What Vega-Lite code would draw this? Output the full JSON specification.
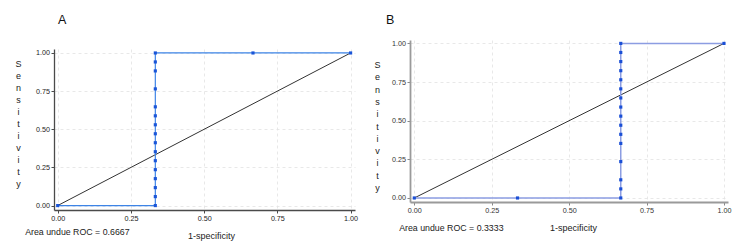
{
  "$schema": "https://vega.github.io/schema/vega-lite/v6.json",
  "background": "white",
  "padding": {"left": 14, "top": 13, "right": 5, "bottom": 5},
  "spacing": 15,
  "datasets": {
    "diag": [
      {"fpr": 0, "tpr": 0},
      {"fpr": 1, "tpr": 1}
    ],
    "rocA": [
      {"step": 1, "fpr": 0, "tpr": 0},
      {"step": 2, "fpr": 0.3333, "tpr": 0},
      {"step": 3, "fpr": 0.3333, "tpr": 0.0588},
      {"step": 4, "fpr": 0.3333, "tpr": 0.1176},
      {"step": 5, "fpr": 0.3333, "tpr": 0.1765},
      {"step": 6, "fpr": 0.3333, "tpr": 0.2353},
      {"step": 7, "fpr": 0.3333, "tpr": 0.2941},
      {"step": 8, "fpr": 0.3333, "tpr": 0.3529},
      {"step": 9, "fpr": 0.3333, "tpr": 0.4118},
      {"step": 10, "fpr": 0.3333, "tpr": 0.4706},
      {"step": 11, "fpr": 0.3333, "tpr": 0.5294},
      {"step": 12, "fpr": 0.3333, "tpr": 0.5882},
      {"step": 13, "fpr": 0.3333, "tpr": 0.6471},
      {"step": 14, "fpr": 0.3333, "tpr": 0.7647},
      {"step": 15, "fpr": 0.3333, "tpr": 0.8824},
      {"step": 16, "fpr": 0.3333, "tpr": 0.9412},
      {"step": 17, "fpr": 0.3333, "tpr": 1},
      {"step": 18, "fpr": 0.6667, "tpr": 1},
      {"step": 19, "fpr": 1, "tpr": 1}
    ],
    "rocB": [
      {"step": 1, "fpr": 0, "tpr": 0},
      {"step": 2, "fpr": 0.3333, "tpr": 0},
      {"step": 3, "fpr": 0.6667, "tpr": 0},
      {"step": 4, "fpr": 0.6667, "tpr": 0.0588},
      {"step": 5, "fpr": 0.6667, "tpr": 0.1176},
      {"step": 6, "fpr": 0.6667, "tpr": 0.2353},
      {"step": 7, "fpr": 0.6667, "tpr": 0.3529},
      {"step": 8, "fpr": 0.6667, "tpr": 0.4118},
      {"step": 9, "fpr": 0.6667, "tpr": 0.4706},
      {"step": 10, "fpr": 0.6667, "tpr": 0.5294},
      {"step": 11, "fpr": 0.6667, "tpr": 0.5882},
      {"step": 12, "fpr": 0.6667, "tpr": 0.6471},
      {"step": 13, "fpr": 0.6667, "tpr": 0.7059},
      {"step": 14, "fpr": 0.6667, "tpr": 0.7647},
      {"step": 15, "fpr": 0.6667, "tpr": 0.8235},
      {"step": 16, "fpr": 0.6667, "tpr": 0.8824},
      {"step": 17, "fpr": 0.6667, "tpr": 0.9412},
      {"step": 18, "fpr": 0.6667, "tpr": 1},
      {"step": 19, "fpr": 1, "tpr": 1}
    ],
    "aucA": [{"label": "Area undue ROC = 0.6667", "auc": 0.6667}],
    "aucB": [{"label": "Area undue ROC = 0.3333", "auc": 0.3333}]
  },
  "config": {
    "font": "Liberation Sans",
    "view": {"stroke": null},
    "axis": {
      "labelFont": "Liberation Sans",
      "labelFontSize": 7.2,
      "labelColor": "#222",
      "labelFlush": false,
      "labelOverlap": false,
      "labelPadding": 1.5,
      "tickSize": 3,
      "titleFont": "Liberation Sans",
      "titleFontSize": 9,
      "titleFontWeight": "normal",
      "titleColor": "#222",
      "gridColor": "#e2e2e2",
      "gridDash": [3, 3],
      "gridWidth": 0.8
    },
    "title": {"font": "Liberation Sans", "fontSize": 12.5, "fontWeight": "normal", "color": "#111", "anchor": "start", "frame": "group"}
  },
  "hconcat": [
    {
      "title": {"text": "A", "dx": 4, "offset": 13.5},
      "spacing": 0,
      "vconcat": [
        {
          "width": 301,
          "height": 8,
          "data": {"values": [{}]},
          "mark": {"type": "rule", "opacity": 0},
          "encoding": {}
        },
        {
          "width": 301,
          "height": 161,
          "layer": [
            {
              "data": {"name": "diag"},
              "mark": {"type": "line", "color": "#333333", "strokeWidth": 1},
              "encoding": {
                "x": {
                  "field": "fpr", "type": "quantitative",
                  "scale": {"domain": [-0.0126, 1.015], "nice": false, "zero": false},
                  "axis": {
                    "title": "1-specificity", "values": [0, 0.25, 0.5, 0.75, 1], "format": ".2f",
                    "domainColor": "#4a4a4a", "domainWidth": 1.3, "tickColor": "#4a4a4a",
                    "titleX": 157, "titleY": 25, "titleBaseline": "middle", "titleAlign": "center"
                  }
                },
                "y": {
                  "field": "tpr", "type": "quantitative",
                  "scale": {"domain": [-0.029, 1.026], "nice": false, "zero": false},
                  "axis": {
                    "title": ["S", "e", "n", "s", "i", "t", "i", "v", "i", "t", "y"],
                    "values": [0, 0.25, 0.5, 0.75, 1], "format": ".2f",
                    "domainColor": "#4a4a4a", "domainWidth": 1.3, "tickColor": "#4a4a4a",
                    "titleAngle": 0, "titleAlign": "center", "titleBaseline": "middle",
                    "titleLineHeight": 12.1, "titleX": -36, "titleY": 14
                  }
                }
              }
            },
            {
              "data": {"name": "rocA"},
              "mark": {"type": "line", "color": "#3d84e6", "strokeWidth": 1.2},
              "encoding": {
                "x": {"field": "fpr", "type": "quantitative"},
                "y": {"field": "tpr", "type": "quantitative"},
                "order": {"field": "step", "type": "quantitative"}
              }
            },
            {
              "data": {"name": "rocA"},
              "mark": {"type": "square", "color": "#1a55d8", "filled": true, "opacity": 1, "size": 10},
              "encoding": {
                "x": {"field": "fpr", "type": "quantitative"},
                "y": {"field": "tpr", "type": "quantitative"}
              }
            },
            {
              "data": {"name": "aucA"},
              "mark": {"type": "text", "align": "left", "baseline": "middle", "fontSize": 8.8, "color": "#222"},
              "encoding": {
                "x": {"datum": -0.111, "type": "quantitative"},
                "y": {"datum": -0.175, "type": "quantitative"},
                "text": {"field": "label"}
              }
            }
          ]
        }
      ]
    },
    {
      "width": 318,
      "height": 162,
      "title": {"text": "B", "dx": -24, "offset": 12.5},
      "layer": [
        {
          "data": {"name": "diag"},
          "mark": {"type": "line", "color": "#333333", "strokeWidth": 1},
          "encoding": {
            "x": {
              "field": "fpr", "type": "quantitative",
              "scale": {"domain": [-0.0139, 1.013], "nice": false, "zero": false},
              "axis": {
                "title": "1-specificity", "values": [0, 0.25, 0.5, 0.75, 1], "format": ".2f",
                "domainColor": "#9a9a9a", "domainWidth": 1.8, "tickColor": "#888",
                "labelColor": "#333",
                "titleX": 163, "titleY": 25, "titleBaseline": "middle", "titleAlign": "center"
              }
            },
            "y": {
              "field": "tpr", "type": "quantitative",
              "scale": {"domain": [-0.026, 1.022], "nice": false, "zero": false},
              "axis": {
                "title": ["S", "e", "n", "s", "i", "t", "i", "v", "i", "t", "y"],
                "values": [0, 0.25, 0.5, 0.75, 1], "format": ".2f",
                "domainColor": "#9a9a9a", "domainWidth": 1.8, "tickColor": "#888",
                "labelColor": "#333",
                "titleAngle": 0, "titleAlign": "center", "titleBaseline": "middle",
                "titleLineHeight": 12.3, "titleX": -33, "titleY": 24.5
              }
            }
          }
        },
        {
          "data": {"name": "rocB"},
          "mark": {"type": "line", "color": "#8c9de2", "strokeWidth": 1.5},
          "encoding": {
            "x": {"field": "fpr", "type": "quantitative"},
            "y": {"field": "tpr", "type": "quantitative"},
            "order": {"field": "step", "type": "quantitative"}
          }
        },
        {
          "data": {"name": "rocB"},
          "mark": {"type": "square", "color": "#1a4fd6", "filled": true, "opacity": 1, "size": 10},
          "encoding": {
            "x": {"field": "fpr", "type": "quantitative"},
            "y": {"field": "tpr", "type": "quantitative"}
          }
        },
        {
          "data": {"name": "aucB"},
          "mark": {"type": "text", "align": "left", "baseline": "middle", "fontSize": 8.8, "color": "#222"},
          "encoding": {
            "x": {"datum": -0.049, "type": "quantitative"},
            "y": {"datum": -0.195, "type": "quantitative"},
            "text": {"field": "label"}
          }
        }
      ]
    }
  ]
}
